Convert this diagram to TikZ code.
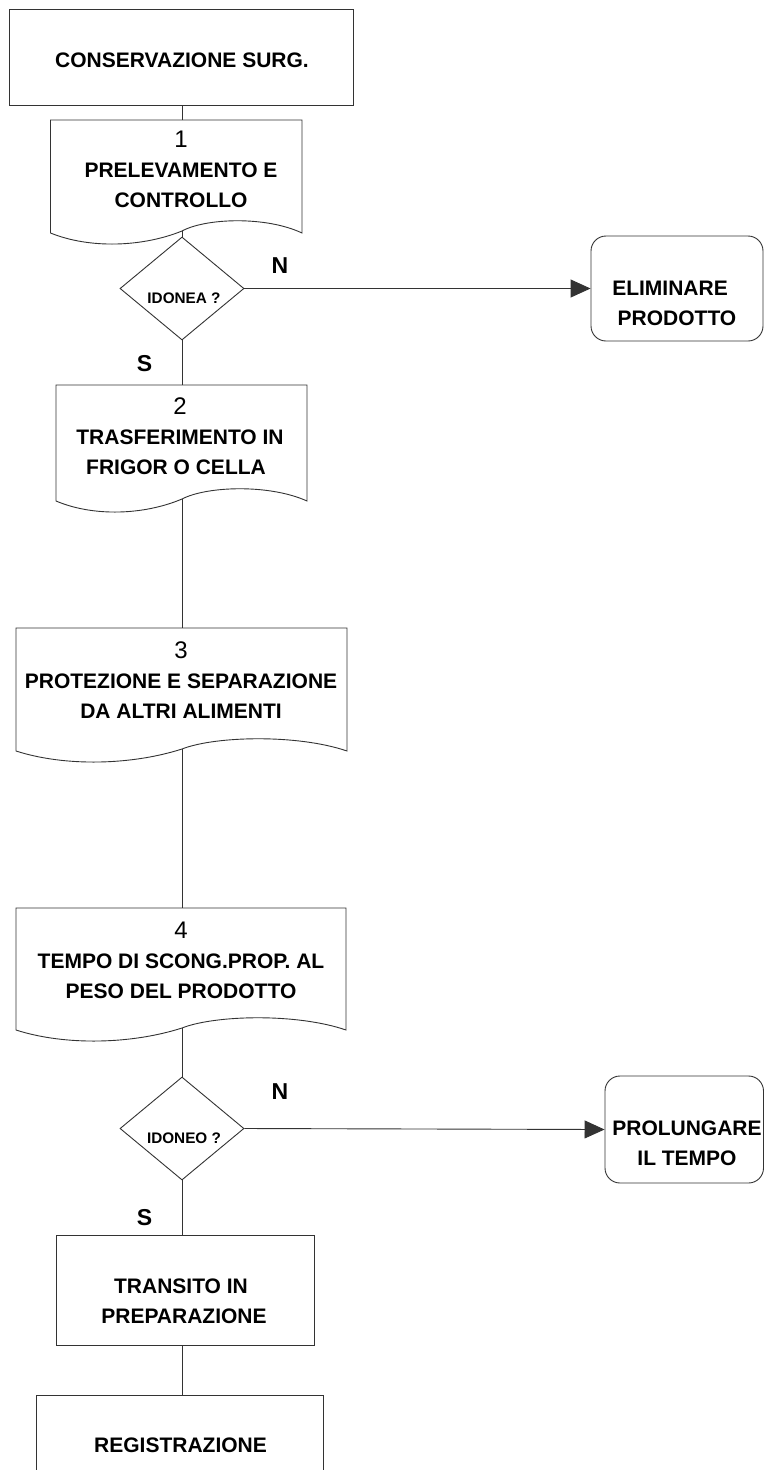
\documentclass[tikz,border=0pt]{standalone}
\usepackage{fontspec}
\setmainfont{Liberation Sans}
\usetikzlibrary{arrows.meta,shapes.geometric}
\tikzset{
  ln/.style={draw=black!80, line width=0.9pt},
  boxtxt/.style={font=\bfseries\fontsize{21}{30}\selectfont, align=center, inner sep=0pt},
  lbl/.style={font=\bfseries\fontsize{23}{27}\selectfont, inner sep=0pt},
  dtxt/.style={font=\bfseries\fontsize{15.3}{18}\selectfont, inner sep=0pt},
  rect/.style={ln, rectangle, inner sep=0pt},
  docarea/.style={rectangle, draw=none, inner sep=0pt},
  rbox/.style={ln, rectangle, rounded corners=15pt, inner sep=0pt},
  decision/.style={ln, diamond, minimum width=124pt, minimum height=103pt, inner sep=0pt},
  arr/.style={ln, -{Triangle[length=20pt,width=18pt]}}
}
\newcommand\docoutline[4]{%
  \pgfmathsetmacro\dcL{#1}\pgfmathsetmacro\dcR{#2}%
  \pgfmathsetmacro\dcT{#3}\pgfmathsetmacro\dcB{#4}%
  \pgfmathsetmacro\rcA{\dcR-0.3*(\dcR-182)}\pgfmathsetmacro\rcB{182+0.2*(\dcR-182)}%
  \pgfmathsetmacro\lcA{182-0.3*(182-\dcL)}\pgfmathsetmacro\lcB{\dcL+0.3*(182-\dcL)}%
  \draw[ln] (\dcL,\dcB) -- (\dcL,\dcT) -- (\dcR,\dcT) -- (\dcR,\dcB)
    .. controls (\rcA,\dcB-17) and (\rcB,\dcB-15) .. (182,\dcB-2)
    .. controls (\lcA,\dcB+14) and (\lcB,\dcB+16) .. cycle;}
\begin{document}
\begin{tikzpicture}[x=1pt,y=-1pt]
\useasboundingbox (0,0) rectangle (764,1470);
\clip (0,0) rectangle (764,1470);
\fill[white] (0,0) rectangle (764,1470);

% top box
\node[rect, minimum width=343.5pt, minimum height=95.5pt] (top) at (181.25,57.25) {};
\node[boxtxt] (topt) at (182,60.5) {CONSERVAZIONE SURG.};

% document box 1
\node[docarea, minimum width=251.5pt, minimum height=113pt] (b1) at (176.25,176.5) {};
\docoutline{50.5}{302}{120}{233}
\coordinate (b1k) at (182,231);
\node[boxtxt] (b1t) at (181,169.5) {{\mdseries\fontsize{24}{30}\selectfont 1}\\PRELEVAMENTO E\\CONTROLLO};

% decision 1
\node[decision] (d1) at (182,288.5) {};
\node[dtxt] (d1t) at (184,298.3) {IDONEA ?};
\node[lbl] (n1) at (280,266) {N};
\node[lbl] (s1) at (144.5,364) {S};

% eliminare
\node[rbox, minimum width=172pt, minimum height=105pt] (e1) at (677,288.5) {};
\node[boxtxt] (e1t) at (677,303) {ELIMINARE\hspace*{14pt}\\PRODOTTO};

% document box 2
\node[docarea, minimum width=251pt, minimum height=116pt] (b2) at (181.5,443) {};
\docoutline{56}{307}{385}{501}
\coordinate (b2k) at (182,499);
\node[boxtxt] (b2t) at (180,436) {{\mdseries\fontsize{24}{30}\selectfont 2}\\TRASFERIMENTO IN\hspace*{4pt}\\FRIGOR O CELLA\hspace*{8pt}};

% document box 3
\node[docarea, minimum width=331pt, minimum height=123pt] (b3) at (181.5,689.5) {};
\docoutline{16}{347}{628}{751}
\coordinate (b3k) at (182,749);
\node[boxtxt] (b3t) at (181,680) {{\mdseries\fontsize{24}{30}\selectfont 3}\\PROTEZIONE E SEPARAZIONE\\DA ALTRI ALIMENTI};

% document box 4
\node[docarea, minimum width=330pt, minimum height=122pt] (b4) at (181,969) {};
\docoutline{16}{346}{908}{1030}
\coordinate (b4k) at (182,1028);
\node[boxtxt] (b4t) at (181,960.5) {{\mdseries\fontsize{24}{30}\selectfont 4}\\TEMPO DI SCONG.PROP. AL\hspace*{5pt}\\PESO DEL PRODOTTO};

% decision 2
\node[decision] (d2) at (182,1128.5) {};
\node[dtxt] (d2t) at (184,1138.3) {IDONEO ?};
\node[lbl] (n2) at (280,1092) {N};
\node[lbl] (s2) at (144.5,1218) {S};

% prolungare
\node[rbox, minimum width=158.5pt, minimum height=107pt] (p1) at (684.25,1129.5) {};
\node[boxtxt] (p1t) at (687,1143) {PROLUNGARE\\IL TEMPO};

% transito
\node[rect, minimum width=258pt, minimum height=110pt] (tr) at (185,1290) {};
\node[boxtxt] (trt) at (184,1301) {TRANSITO IN\hspace*{6pt}\\PREPARAZIONE};

% registrazione
\node[rect, minimum width=287pt, minimum height=125pt] (reg) at (179.5,1457.5) {};
\node[boxtxt] (regt) at (180.5,1445) {REGISTRAZIONE};

% connectors
\draw[ln] (b1k |- top.south) -- (b1k |- b1.north);
\draw[ln] (b1k) -- (d1.north);
\draw[ln] (d1.south) -- (d1.south |- b2.north);
\draw[arr] (d1.east) -- (e1.west);
\draw[ln] (b2k) -- (b2k |- b3.north);
\draw[ln] (b3k) -- (b3k |- b4.north);
\draw[ln] (b4k) -- (d2.north);
\draw[arr] (d2.east) -- (p1.west);
\draw[ln] (d2.south) -- (d2.south |- tr.north);
\draw[ln] (d2.south |- tr.south) -- (d2.south |- reg.north);
\end{tikzpicture}
\end{document}
